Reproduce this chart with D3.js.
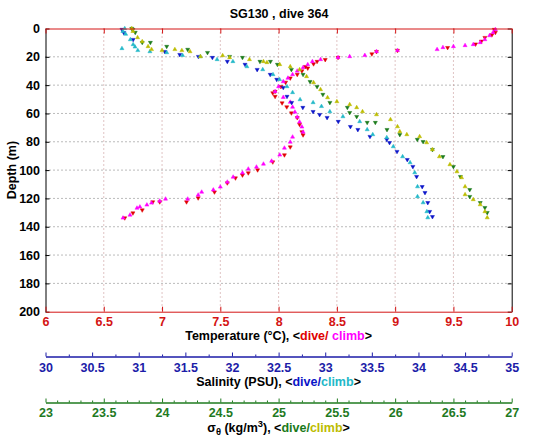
<!DOCTYPE html>
<html>
<head>
<meta charset="utf-8">
<script src="https://cdn.jsdelivr.net/npm/d3@7"></script>
<style>
body{margin:0;background:#fff;}
svg{display:block;}
text{font-family:"Liberation Sans",Arial,Helvetica,sans-serif;font-weight:bold;}
</style>
</head>
<body>
<svg id="chart" width="535" height="442"></svg>
<script>
// ---------- data (depth m, value) ----------
const depthTicks = [0,20,40,60,80,100,120,140,160,180,200];
const tempTicks = [6,6.5,7,7.5,8,8.5,9,9.5,10];
const salTicks = [30,30.5,31,31.5,32,32.5,33,33.5,34,34.5,35];
const salMinor = [30.25,30.75,31.25,31.75,32.25,32.75,33.25,33.75,34.25,34.75];
const sigTicks = [23,23.5,24,24.5,25,25.5,26,26.5,27];
const sigMinor = [23.1,23.2,23.3,23.4,23.6,23.7,23.8,23.9,24.1,24.2,24.3,24.4,24.6,24.7,24.8,24.9,25.1,25.2,25.3,25.4,25.6,25.7,25.8,25.9,26.1,26.2,26.3,26.4,26.6,26.7,26.8,26.9];

const tempDive = [[0.7,9.85],[2.8,9.86],[4.5,9.83],[6.4,9.77],[9,9.74],[11,9.69],[13.5,9.45],[15.5,9.02],[16.3,8.84],[18,8.8],[20.5,8.51],[22,8.4],[23.3,8.33],[25,8.3],[26.9,8.23],[28,8.25],[30,8.2],[32.5,8.16],[35,8.1],[38,8.06],[41,8.02],[44.5,7.97],[45.5,7.95],[48,7.97],[52.6,8.03],[55.4,8.07],[59.7,8.11],[63,8.16],[67.8,8.18],[73,8.2],[75.2,8.21],[83.7,8.1],[89.3,8.05],[94.3,7.95],[99.9,7.82],[102,7.74],[103.5,7.69],[105.6,7.63],[109.1,7.56],[115.5,7.45],[119.7,7.31],[122.5,7.21],[122.5,6.98],[122.5,6.92],[128.2,6.83],[130.3,6.75],[133.8,6.68]];
const tempClimb = [[0.7,9.86],[2.8,9.84],[5,9.81],[7.8,9.77],[9.9,9.73],[11.3,9.67],[12,9.6],[12.7,9.5],[13.4,9.41],[14.8,9.36],[15.5,9.02],[16.3,8.84],[19,8.74],[19.8,8.61],[20.5,8.51],[21.9,8.36],[23.3,8.29],[25.5,8.25],[27.6,8.21],[30,8.16],[32.5,8.12],[35,8.08],[37.5,8.04],[41,8.0],[44.5,7.97],[48.6,8.04],[52,8.1],[55.5,8.12],[59,8.14],[62.5,8.16],[66,8.18],[69.5,8.2],[73.1,8.21],[76.6,8.12],[80.2,8.1],[84.4,8.05],[89.3,8.01],[93.6,7.94],[95.7,7.87],[97.8,7.81],[99.2,7.74],[102,7.69],[104.9,7.61],[108.4,7.56],[111.9,7.5],[114,7.44],[115.5,7.34],[117.6,7.31],[120.4,7.22],[120.4,7.03],[121.8,6.98],[123.2,6.91],[124.6,6.87],[126,6.81],[126.8,6.785],[131.7,6.725],[133.8,6.665]];

const salDive = [[0.7,30.82],[3,30.84],[7.8,30.94],[16.3,31.28],[18.4,31.44],[19.8,31.64],[20.5,31.79],[23.3,31.95],[25.4,32.14],[29,32.27],[32.5,32.41],[36,32.48],[41.7,32.55],[48,32.59],[52.3,32.64],[55.8,32.76],[58.7,32.87],[60.8,32.94],[62.9,33.02],[65.7,33.14],[69.3,33.27],[71.4,33.35],[76.3,33.48],[78.4,33.66],[80.6,33.69],[86.9,33.77],[92.6,33.88],[97.5,33.94],[104.6,33.98],[111.7,34.04],[115.9,34.07],[123,34.1],[129.3,34.12],[132.9,34.15]];
const salClimb = [[0,30.85],[2,30.83],[4,30.86],[7.8,30.91],[11.3,30.94],[13,30.96],[14.1,30.82],[15.5,30.99],[16.3,31.12],[17,31.3],[19,31.47],[19.8,31.66],[21.9,31.84],[23.3,32.01],[26.9,32.16],[29,32.33],[32.5,32.44],[36,32.51],[41,32.59],[45.2,32.65],[50.2,32.73],[52.3,32.87],[55,32.96],[58.7,33.05],[62.2,33.19],[65.7,33.37],[71.4,33.45],[74.9,33.51],[77,33.66],[83.4,33.73],[90.5,33.83],[94.7,33.91],[101.8,33.96],[111.7,33.99],[118.7,33.99],[123,34.05],[129.3,34.09],[133.6,34.1]];

const sigDive = [[0,23.74],[0.7,23.75],[2.8,23.77],[9.9,23.83],[9.9,23.9],[12.7,24.04],[14.8,24.22],[17,24.39],[19.8,24.58],[20.5,24.69],[23.3,24.84],[23.3,24.93],[25.4,24.99],[29,25.11],[32.5,25.21],[37.5,25.27],[41,25.33],[46.6,25.38],[52.3,25.44],[55.8,25.59],[59.4,25.61],[62.2,25.67],[66.4,25.76],[66.4,25.83],[71.4,25.93],[74.9,26.04],[78.4,26.19],[79.9,26.24],[85.5,26.32],[90.5,26.41],[97.5,26.5],[104.6,26.56],[113.8,26.64],[118.7,26.64],[123,26.73],[126.5,26.77],[130,26.79]];
const sigClimb = [[0,23.74],[2,23.75],[6.4,23.79],[9.2,23.83],[12.7,23.88],[14.8,23.91],[15.5,24.0],[14.8,24.11],[15.5,24.17],[16.3,24.24],[19.8,24.33],[19.1,24.52],[20.5,24.58],[21.9,24.75],[23.3,24.87],[24,24.9],[25.4,25.01],[26.9,25.1],[29,25.18],[33.9,25.24],[38.2,25.3],[43.1,25.36],[48.8,25.42],[51.6,25.5],[53.7,25.61],[55.8,25.67],[58.7,25.72],[60.8,25.84],[64.3,25.96],[69.3,26.02],[72.8,26.04],[74.9,26.1],[76.3,26.21],[80.6,26.27],[85.5,26.32],[90.5,26.38],[96.1,26.47],[101.1,26.53],[105.3,26.57],[111.7,26.6],[117.3,26.6],[120.8,26.67],[124.4,26.73],[129.3,26.77],[133.6,26.79]];

// ---------- layout ----------
const X0 = 45.5, X1 = 511.7, Y0 = 28.5, Y1 = 311.7;
const FS = 12.5;
const cRed = "#e00000", cMag = "#ff00ff", cBlue = "#0a14c8", cCyan = "#22b8c8",
      cGreen = "#1a7a1a", cYel = "#bcbc00";
const cTempAx = "#d41414", cSalAx = "#1c1ca8", cSigAx = "#1f7a1f";

const svg = d3.select("#chart");
const y = d3.scaleLinear().domain([0,200]).range([Y0,Y1]);
const xT = d3.scaleLinear().domain([6,10]).range([X0,X1]);
const xS = d3.scaleLinear().domain([30,35]).range([X0,X1]);
const xG = d3.scaleLinear().domain([23,27]).range([X0,X1]);

// grid
const grid = svg.append("g");
grid.selectAll("line.h").data(depthTicks.slice(1,-1)).join("line")
  .attr("x1",X0).attr("x2",X1).attr("y1",d=>y(d)).attr("y2",d=>y(d))
  .attr("stroke","#777").attr("stroke-width",1).attr("stroke-dasharray","1,3");
grid.selectAll("line.v").data(tempTicks.slice(1,-1)).join("line")
  .attr("x1",d=>xT(d)).attr("x2",d=>xT(d)).attr("y1",Y0).attr("y2",Y1)
  .attr("stroke","#c08888").attr("stroke-width",1).attr("stroke-dasharray","1,3");

// markers
const triUp = d3.symbol().type(d3.symbolTriangle).size(7);
function plot(data, xs, color, down){
  svg.append("g").selectAll("path").data(data).join("path")
    .attr("d", triUp())
    .attr("transform", d=>`translate(${xs(d[1])},${y(d[0])})${down?" rotate(180)":""}`)
    .attr("fill", color).attr("stroke", color).attr("stroke-width",0.5);
}
plot(tempDive, xT, cRed, true);
plot(tempClimb, xT, cMag, false);
plot(salDive, xS, cBlue, true);
plot(salClimb, xS, cCyan, false);
plot(sigDive, xG, cGreen, true);
plot(sigClimb, xG, cYel, false);

function styleAxis(g, color){
  g.selectAll("path.domain").attr("stroke", color).attr("stroke-width",1);
  g.selectAll(".tick line").attr("stroke", color);
  g.selectAll("text").attr("fill", color).attr("font-size",FS)
    .attr("font-family","Liberation Sans, Arial, sans-serif").attr("font-weight","bold");
}

// left axis
const gl = svg.append("g").attr("transform",`translate(${X0},0)`)
  .call(d3.axisLeft(y).tickValues(depthTicks).tickSizeInner(-4).tickSizeOuter(0).tickPadding(5.5));
styleAxis(gl, "#000");
// right axis
const gr = svg.append("g").attr("transform",`translate(${X1},0)`)
  .call(d3.axisRight(y).tickValues(depthTicks).tickSizeInner(-4).tickSizeOuter(0).tickFormat(""));
styleAxis(gr, "#000");
// top axis
const gt = svg.append("g").attr("transform",`translate(0,${Y0})`)
  .call(d3.axisTop(xT).tickValues(tempTicks).tickSizeInner(-5).tickSizeOuter(0).tickFormat(""));
styleAxis(gt, cTempAx);
// bottom temp axis
const gb = svg.append("g").attr("transform",`translate(0,${Y1})`)
  .call(d3.axisBottom(xT).tickValues(tempTicks).tickSizeInner(-5).tickSizeOuter(0).tickPadding(5.4).tickFormat(d3.format("")));
styleAxis(gb, cTempAx);

// salinity axis
const SY = 356.5;
const gsm = svg.append("g").attr("transform",`translate(0,${SY})`)
  .call(d3.axisBottom(xS).tickValues(salMinor).tickSizeInner(-2).tickSizeOuter(0).tickFormat(""));
styleAxis(gsm, cSalAx);
const gs = svg.append("g").attr("transform",`translate(0,${SY})`)
  .call(d3.axisBottom(xS).tickValues(salTicks).tickSizeInner(-4).tickSizeOuter(0).tickPadding(6.6).tickFormat(d3.format("")));
styleAxis(gs, cSalAx);

// sigma axis
const GY = 402.5;
const ggm = svg.append("g").attr("transform",`translate(0,${GY})`)
  .call(d3.axisBottom(xG).tickValues(sigMinor).tickSizeInner(-2).tickSizeOuter(0).tickFormat(""));
styleAxis(ggm, cSigAx);
const gg = svg.append("g").attr("transform",`translate(0,${GY})`)
  .call(d3.axisBottom(xG).tickValues(sigTicks).tickSizeInner(-4).tickSizeOuter(0).tickPadding(5.6).tickFormat(d3.format("")));
styleAxis(gg, cSigAx);

// title
svg.append("text").attr("x",279).attr("y",18).attr("text-anchor","middle")
  .attr("font-size",FS).attr("fill","#000").text("SG130 , dive 364");

// y label
svg.append("text").attr("transform",`translate(16,${(Y0+Y1)/2}) rotate(-90)`)
  .attr("text-anchor","middle").attr("font-size",FS).attr("fill","#000").text("Depth (m)");

// axis titles
function label(yPos, parts){
  const t = svg.append("text").attr("x",(X0+X1)/2).attr("y",yPos).attr("text-anchor","middle")
    .attr("font-size",FS);
  parts.forEach(p=>{
    const s = t.append("tspan").text(p[0]).attr("fill",p[1]);
    if(p[2]) s.attr("baseline-shift",p[2]).attr("font-size",FS*0.75);
  });
}
label(340, [["Temperature (°C), <","#000"],["dive/","#e00000"],[" climb","#ff00ff"],[">","#000"]]);
label(386, [["Salinity (PSU), <","#000"],["dive/",cBlue],["climb",cCyan],[">","#000"]]);
label(432, [["σ","#000"],["θ","#000","-3"],[" (kg/m","#000"],["3","#000","5"],["), <","#000"],["dive/",cGreen],["climb",cYel],[">","#000"]]);
</script>
</body>
</html>
